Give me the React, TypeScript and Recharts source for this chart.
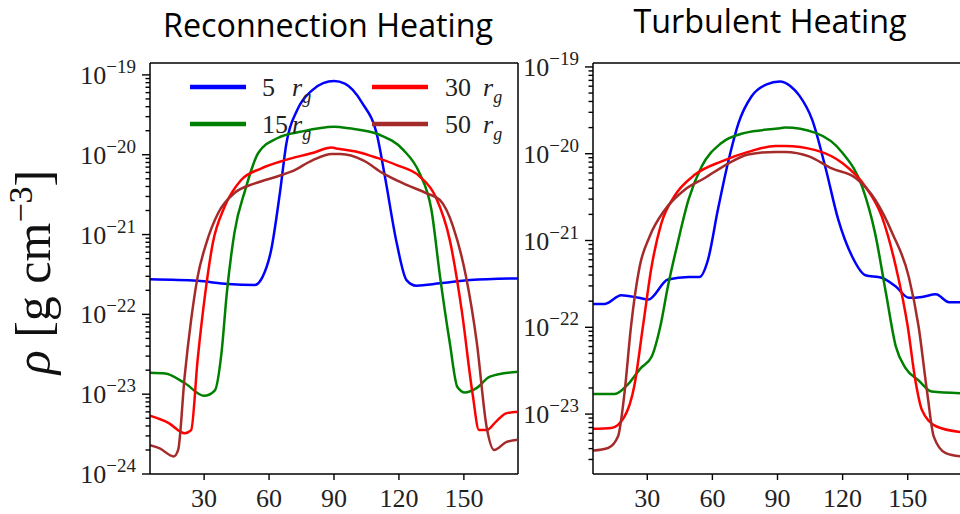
import React from 'react';
import { LineChart, Line, XAxis, YAxis, ReferenceLine } from 'recharts';

// polar angle (deg) -> density (g cm^-3)
const RECON_5 = [[5, 2.75e-22], [27, 2.63e-22], [41, 2.4e-22], [53.5, 2.34e-22], [57, 2.95e-22], [61, 6.46e-22], [65, 3.31e-21], [68, 1.38e-20], [73, 3.63e-20], [80, 6.46e-20], [85, 7.9e-20], [90, 8.4e-20], [95, 7.8e-20], [103, 4.47e-20], [110, 1.7e-20], [113.5, 5.37e-21], [119, 7.76e-22], [123.5, 2.69e-22], [128, 2.29e-22], [139, 2.45e-22], [153, 2.69e-22], [175, 2.82e-22]];
const RECON_15 = [[5, 1.86e-23], [12, 1.82e-23], [21, 1.38e-23], [30, 9.55e-24], [35, 1.12e-23], [38, 3.24e-23], [40.5, 1.86e-22], [44, 1.05e-21], [49, 3.63e-21], [55, 1.05e-20], [64, 1.62e-20], [75, 1.95e-20], [90, 2.24e-20], [97, 2.14e-20], [111, 1.78e-20], [122, 1.15e-20], [129.5, 5.89e-21], [135, 2.04e-21], [139, 2.95e-22], [143.5, 4.37e-23], [147, 1.23e-23], [150.5, 1.05e-23], [156, 1.2e-23], [162, 1.66e-23], [175, 1.91e-23]];
const RECON_30 = [[5, 5.37e-24], [13.5, 4.37e-24], [21, 3.24e-24], [24, 3.55e-24], [27, 2.69e-23], [30.5, 1.82e-22], [34, 7.76e-22], [39.5, 2.24e-21], [47, 4.79e-21], [56.5, 6.76e-21], [67, 8.51e-21], [80, 1.05e-20], [89, 1.23e-20], [91, 1.2e-20], [100, 1.1e-20], [110, 9.12e-21], [119, 7.41e-21], [129.5, 5.37e-21], [137, 2.95e-21], [143.5, 8.51e-22], [149, 1.12e-22], [154, 1.02e-23], [157, 3.55e-24], [160.5, 3.55e-24], [165, 4.57e-24], [169.5, 5.75e-24], [175, 6.03e-24]];
const RECON_50 = [[5, 2.29e-24], [9.5, 2.09e-24], [16, 1.66e-24], [18, 2.0e-24], [21, 1.66e-23], [24, 8.51e-23], [27, 2.95e-22], [31, 7.76e-22], [36.5, 1.86e-21], [44, 3.31e-21], [53.5, 4.37e-21], [64, 5.37e-21], [70.5, 6.17e-21], [80, 8.51e-21], [89, 1.02e-20], [93, 1.02e-20], [103.5, 8.51e-21], [112.5, 5.89e-21], [122, 4.37e-21], [132.5, 3.31e-21], [139, 2.69e-21], [145, 1.26e-21], [151, 2.95e-22], [156, 4.37e-23], [160.5, 3.89e-24], [164, 2.0e-24], [169.5, 2.51e-24], [175, 2.69e-24]];

const TURB_5 = [[5, 1.86e-22], [10.5, 1.86e-22], [18, 2.34e-22], [26, 2.19e-22], [30.5, 2.09e-22], [39.5, 3.55e-22], [49, 3.8e-22], [54, 3.8e-22], [58, 6.03e-22], [62.5, 2.24e-21], [67.5, 8.51e-21], [72, 2.24e-20], [78, 4.57e-20], [85, 6.3e-20], [91, 6.8e-20], [96, 6.0e-20], [100, 4.7e-20], [106, 2.45e-20], [112, 7.08e-21], [118, 1.74e-21], [124.5, 6.46e-22], [130.5, 3.98e-22], [138, 3.72e-22], [144.5, 2.95e-22], [150.5, 2.19e-22], [156.5, 2.24e-22], [163, 2.4e-22], [169, 1.95e-22], [175, 1.95e-22]];
const TURB_15 = [[5, 1.7e-23], [15, 1.7e-23], [21, 2.19e-23], [27, 3.39e-23], [32, 4.57e-23], [36, 1.02e-22], [39.5, 2.95e-22], [44, 9.33e-22], [49, 2.95e-21], [55, 7.08e-21], [64, 1.32e-20], [75, 1.74e-20], [90, 1.95e-20], [93.5, 2.0e-20], [107.5, 1.74e-20], [120, 1.02e-20], [129, 4.17e-21], [135, 1.2e-21], [140, 2.45e-22], [144.5, 6.03e-23], [149, 3.39e-23], [155, 2.45e-23], [161, 1.82e-23], [175, 1.74e-23]];
const TURB_30 = [[5, 6.76e-24], [13.5, 6.92e-24], [19.5, 9.33e-24], [24, 2.09e-23], [28, 1.02e-22], [32, 5.01e-22], [36.5, 1.58e-21], [42.5, 3.24e-21], [52, 5.75e-21], [64, 8.13e-21], [76.5, 1.05e-20], [89, 1.23e-20], [93.5, 1.23e-20], [107.5, 1.1e-20], [120, 7.76e-21], [130.5, 4.17e-21], [138, 1.91e-21], [144.5, 5.01e-22], [150, 1.02e-22], [153.5, 2.45e-23], [156.5, 1.12e-23], [163, 7.24e-24], [175, 6.17e-24]];
const TURB_50 = [[5, 3.8e-24], [12, 4.07e-24], [16.5, 5.5e-24], [19.5, 1.74e-23], [22.5, 1.02e-22], [26.5, 5.01e-22], [31, 1.1e-21], [38, 2.24e-21], [47, 3.8e-21], [56.5, 5.25e-21], [67.5, 7.76e-21], [76.5, 9.77e-21], [89, 1.05e-20], [93.5, 1.05e-20], [104.5, 9.33e-21], [115, 6.76e-21], [126, 5.25e-21], [135, 2.95e-21], [143, 1.2e-21], [150.5, 3.8e-22], [155, 1.02e-22], [159, 1.74e-23], [162, 5.5e-24], [167.5, 3.55e-24], [175, 3.24e-24]];

const RADII = ['5', '15', '30', '50'];
const COLORS = ['#0000ff', '#008000', '#ff0000', '#a52a2a'];
const X_TICKS = [30, 60, 90, 120, 150];
const X_DOMAIN = [5, 175];
const DECADES = [-24, -23, -22, -21, -20, -19];
const LEFT_Y_DOMAIN = [1e-24, 1.41e-19];
const RIGHT_Y_DOMAIN = [2.04e-24, 1.11e-19];

const SERIF = '"Liberation Serif", "DejaVu Serif", serif';
const SANS = '"Open Sans", "Noto Sans", sans-serif';

const logTicks = (domain: number[]) => {
  const out: number[] = [];
  DECADES.forEach((d) => {
    for (let m = 1; m < 10; m++) {
      const v = m * Math.pow(10, d);
      if (v >= domain[0] * 0.999 && v <= domain[1]) out.push(v);
    }
  });
  return out;
};

const toPoints = (arr: number[][]) => arr.map(([x, y]) => ({ x, y }));

const XTick = ({ x, y, payload }: any) => (
  <g>
    <line x1={x} x2={x} y1={y} y2={y + 6} stroke="#000" strokeWidth={1.4} />
    <text x={x} y={y + 33} textAnchor="middle" fontFamily={SERIF} fontSize={26} fill="#222">
      {payload.value}
    </text>
  </g>
);

const YTick = ({ x, y, payload }: any) => {
  const exp = Math.log10(payload.value);
  const major = Math.abs(exp - Math.round(exp)) < 1e-6;
  return (
    <g>
      <line x1={x} x2={x - (major ? 8 : 4.5)} y1={y} y2={y} stroke="#000" strokeWidth={1.4} />
      {major && (
        <text x={x - 14} y={y + 9} textAnchor="end" fontFamily={SERIF} fontSize={26} fill="#222">
          10<tspan dy={-11} fontSize={19}>{'\u2212' + -Math.round(exp)}</tspan>
        </text>
      )}
    </g>
  );
};

const Panel = ({ series, yDomain, width, right }: { series: number[][][]; yDomain: number[]; width: number; right: number }) => (
  <LineChart width={width} height={514} margin={{ top: 63, right, bottom: 0, left: 0 }}>
    <XAxis
      type="number"
      dataKey="x"
      domain={X_DOMAIN}
      ticks={X_TICKS}
      interval={0}
      allowDataOverflow
      height={40}
      tickSize={0}
      tickMargin={0}
      tickLine={false}
      tick={<XTick />}
      axisLine={{ stroke: '#000', strokeWidth: 1.5 }}
    />
    <YAxis
      type="number"
      scale="log"
      domain={yDomain}
      ticks={logTicks(yDomain)}
      interval={0}
      allowDataOverflow
      width={150}
      tickSize={0}
      tickMargin={0}
      tickLine={false}
      tick={<YTick />}
      axisLine={{ stroke: '#000', strokeWidth: 1.5 }}
    />
    {/* top and right edges of the frame */}
    <ReferenceLine y={yDomain[1]} stroke="#000" strokeWidth={1.5} ifOverflow="visible" />
    <ReferenceLine x={X_DOMAIN[1]} stroke="#000" strokeWidth={1.5} ifOverflow="visible" />
    {series.map((s, i) => (
      <Line
        key={RADII[i]}
        data={toPoints(s)}
        dataKey="y"
        name={`${RADII[i]} r_g`}
        type="monotone"
        stroke={COLORS[i]}
        strokeWidth={2.5}
        dot={false}
        isAnimationActive={false}
      />
    ))}
  </LineChart>
);

const LEGEND_POS = [
  { lx: 190, tx: 262, rx: 292, y: 87 },
  { lx: 190, tx: 262, rx: 292, y: 124 },
  { lx: 372, tx: 445, rx: 483, y: 87 },
  { lx: 372, tx: 445, rx: 483, y: 124 },
];

export default function App() {
  return (
    <div style={{ position: 'absolute', left: 0, top: 0, width: 960, height: 514, overflow: 'hidden', background: '#fff' }}>
      <div style={{ position: 'absolute', left: 0, top: 0 }}>
        <Panel series={[RECON_5, RECON_15, RECON_30, RECON_50]} yDomain={LEFT_Y_DOMAIN} width={530} right={12} />
      </div>
      <div style={{ position: 'absolute', left: 443, top: 0 }}>
        <Panel series={[TURB_5, TURB_15, TURB_30, TURB_50]} yDomain={RIGHT_Y_DOMAIN} width={519} right={0} />
      </div>
      <svg width={960} height={514} style={{ position: 'absolute', left: 0, top: 0, pointerEvents: 'none' }}>
        <text x={328} y={37} textAnchor="middle" fontFamily={SANS} fontSize={33} fill="#000" textLength={330} lengthAdjust="spacingAndGlyphs">
          Reconnection Heating
        </text>
        <text x={770} y={33} textAnchor="middle" fontFamily={SANS} fontSize={32} fill="#000" textLength={273} lengthAdjust="spacingAndGlyphs">
          Turbulent Heating
        </text>
        <text transform="translate(50,272) rotate(-90)" textAnchor="middle" fontFamily={SERIF} fontSize={50} fill="#111">
          <tspan fontStyle="italic">ρ</tspan> [g cm<tspan dy={-18} fontSize={34}>{'\u22123'}</tspan>
          <tspan dy={18}>]</tspan>
        </text>
        {LEGEND_POS.map((p, i) => (
          <g key={RADII[i]}>
            <line x1={p.lx} x2={p.lx + 56} y1={p.y} y2={p.y} stroke={COLORS[i]} strokeWidth={4.5} />
            <text x={p.tx} y={p.y + 9} fontFamily={SERIF} fontSize={26} fill="#222">
              {RADII[i]}
              <tspan x={p.rx} fontStyle="italic">r</tspan>
              <tspan dy={7} fontSize={18} fontStyle="italic">g</tspan>
            </text>
          </g>
        ))}
      </svg>
    </div>
  );
}
